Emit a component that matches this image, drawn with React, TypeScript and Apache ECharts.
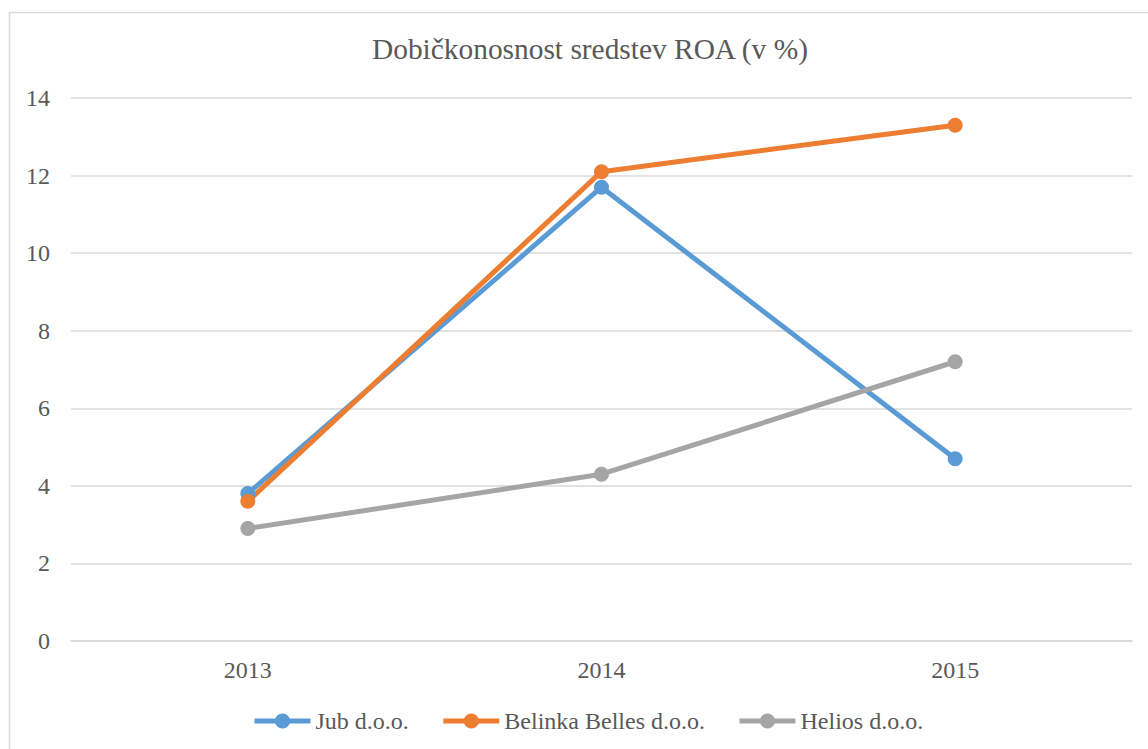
import React, { useEffect, useRef } from "react";
import * as echarts from "echarts";

const categories = ["2013", "2014", "2015"];
const jub = [3.8, 11.7, 4.7];
const belinka = [3.6, 12.1, 13.3];
const helios = [2.9, 4.3, 7.2];
const seriesNames = ["Jub d.o.o.", "Belinka Belles d.o.o.", "Helios d.o.o."];
const colors = ["#5B9BD5", "#ED7D31", "#A5A5A5"];

const FONT = "Liberation Serif";

export default function App() {
  const ref = useRef<HTMLDivElement>(null);
  useEffect(() => {
    if (!ref.current) return;
    const chart = echarts.init(ref.current, null, { renderer: "svg" });
    const mk = (name: string, data: number[], color: string) => ({
      name,
      type: "line",
      data,
      symbol: "circle",
      symbolSize: 15,
      lineStyle: { width: 5, color },
      itemStyle: { color },
    });
    chart.setOption({
      animation: false,
      color: colors,
      textStyle: { fontFamily: FONT },
      title: {
        text: "Dobičkonosnost sredstev ROA (v %)",
        left: 367,
        top: 29,
        textStyle: { fontFamily: FONT, fontSize: 29.4, fontWeight: "normal", color: "#595959" },
      },
      graphic: [
        {
          type: "rect",
          shape: { x: 9.5, y: 12.5, width: 1300, height: 900 },
          style: { fill: "none", stroke: "#D9D9D9", lineWidth: 1.5 },
          silent: true,
        },
      ],
      legend: {
        top: 709,
        left: 252,
        padding: 0,
        itemWidth: 56,
        itemHeight: 19,
        itemGap: 32,
        lineStyle: { width: 5 },
        textStyle: { fontFamily: FONT, fontSize: 24, color: "#595959" },
        data: seriesNames.map((n, i) => ({ name: n, lineStyle: { width: 5, color: colors[i] } })),
      },
      grid: { left: 71, right: 16, top: 98, bottom: 108, containLabel: false },
      xAxis: {
        type: "category",
        data: categories,
        boundaryGap: true,
        axisLine: { show: true, lineStyle: { color: "#D9D9D9", width: 1.5 } },
        axisTick: { show: false },
        axisLabel: { fontFamily: FONT, fontSize: 24, color: "#595959", margin: 17 },
      },
      yAxis: {
        type: "value",
        min: 0,
        max: 14,
        interval: 2,
        axisLine: { show: false },
        axisTick: { show: false },
        splitLine: { lineStyle: { color: "#D9D9D9", width: 1.5 } },
        axisLabel: { fontFamily: FONT, fontSize: 24, color: "#595959", margin: 21 },
      },
      series: [
        mk(seriesNames[0], jub, colors[0]),
        mk(seriesNames[1], belinka, colors[1]),
        mk(seriesNames[2], helios, colors[2]),
      ],
    });
    return () => chart.dispose();
  }, []);
  return (
    <div style={{ position: "absolute", left: 0, top: 0, width: 1148, height: 749, overflow: "hidden" }}>
      <div ref={ref} style={{ width: 1148, height: 749 }} />
    </div>
  );
}
